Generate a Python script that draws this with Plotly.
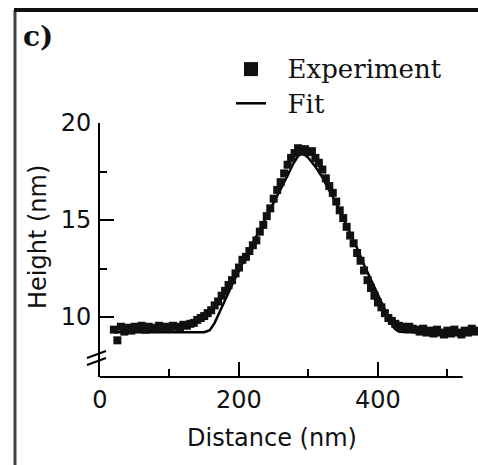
import plotly.graph_objects as go

exp_distance = [20, 25, 30, 35, 40, 45, 50, 55, 60, 65, 70, 75, 80, 85, 90, 95, 100, 105, 110, 115,
                120, 125, 130, 135, 140, 145, 150, 155, 160, 165, 170, 175, 180, 185, 190, 195, 200,
                205, 210, 215, 220, 225, 230, 235, 240, 245, 250, 255, 260, 265, 270, 275, 280, 285,
                290, 295, 300, 305, 310, 315, 320, 325, 330, 335, 340, 345, 350, 355, 360, 365, 370,
                375, 380, 385, 390, 395, 400, 405, 410, 415, 420, 425, 430, 435, 440, 445, 450, 455,
                460, 465, 470, 475, 480, 485, 490, 495, 500, 505, 510, 515, 520, 525, 530, 535, 540, 545]
exp_height = [9.35, 8.8, 9.5, 9.25, 9.45, 9.3, 9.5, 9.4, 9.55, 9.35, 9.5, 9.45, 9.4, 9.55, 9.45, 9.5,
              9.4, 9.55, 9.5, 9.45, 9.6, 9.55, 9.65, 9.7, 9.85, 9.95, 10.05, 10.2, 10.35, 10.6, 10.8,
              11.1, 11.35, 11.65, 11.9, 12.25, 12.55, 12.95, 13.1, 13.4, 13.7, 13.95, 14.4, 14.75,
              15.2, 15.6, 16.1, 16.55, 16.95, 17.4, 17.85, 18.2, 18.45, 18.7, 18.55, 18.65, 18.5,
              18.55, 18.2, 17.95, 17.6, 17.15, 16.75, 16.4, 15.95, 15.5, 15.1, 14.65, 14.2, 13.8,
              13.3, 12.9, 12.4, 11.9, 11.5, 11.1, 10.75, 10.5, 10.2, 9.95, 9.8, 9.65, 9.55, 9.5,
              9.45, 9.5, 9.4, 9.35, 9.25, 9.4, 9.2, 9.3, 9.15, 9.35, 9.2, 9.1, 9.3, 9.15, 9.35, 9.2,
              9.1, 9.3, 9.2, 9.4, 9.25, 9.3]

# Fit curve
fit_distance = [20, 100, 150, 158, 165, 172, 180, 190, 200, 210, 220, 230, 240, 250, 260, 270, 278,
                285, 290, 295, 300, 310, 320, 330, 340, 350, 360, 370, 380, 390, 400, 410, 418, 424,
                430, 440, 545]
fit_height = [9.22, 9.22, 9.22, 9.32, 9.7, 10.25, 10.9, 11.65, 12.4, 13.1, 13.75, 14.45, 15.15, 15.9,
              16.6, 17.3, 17.9, 18.3, 18.4, 18.35, 18.2, 17.75, 17.2, 16.55, 15.85, 15.1, 14.35,
              13.55, 12.7, 11.9, 11.1, 10.3, 9.75, 9.4, 9.25, 9.22, 9.22]

x_major = [0, 200, 400]
x_minor = [100, 300, 500]
y_major = [10, 15, 20]
y_minor = [12.5, 17.5]

fig = go.Figure()
fig.add_trace(go.Scatter(x=fit_distance, y=fit_height, mode="lines",
                         line=dict(color="black", width=2.5), showlegend=False))
fig.add_trace(go.Scatter(x=exp_distance, y=exp_height, mode="markers",
                         marker=dict(symbol="square", size=8, color="#111"), showlegend=False))
# legend entries
fig.add_trace(go.Scatter(x=[None], y=[None], mode="markers",
                         name="<span style='font-size:26px'>\u00a0\u00a0Experiment</span>",
                         marker=dict(symbol="square", size=14, color="#111")))
fig.add_trace(go.Scatter(x=[None], y=[None], mode="lines",
                         name="<span style='font-size:26px'>\u00a0\u00a0Fit</span>",
                         line=dict(color="black", width=2.5)))

sans = "DejaVu Sans"
serif = "DejaVu Serif"

fig.update_layout(
    width=478, height=465,
    margin=dict(l=100, r=0, t=123, b=88),
    paper_bgcolor="white", plot_bgcolor="white",
    showlegend=True,
    legend=dict(x=(231 - 100) / 378, y=(377 - 47) / 254, xanchor="left", yanchor="top",
                font=dict(family=serif, size=24, color="#111"), bgcolor="rgba(0,0,0,0)",
                itemwidth=30, tracegroupgap=0),
    xaxis=dict(range=[0, 544], showline=False, showgrid=False, zeroline=False,
               tickvals=x_major, ticks="inside", ticklen=15, tickwidth=2, tickcolor="black",
               minor=dict(tickvals=x_minor, ticks="inside", ticklen=8, tickwidth=2, tickcolor="black"),
               tickfont=dict(family=sans, size=24, color="#111"), ticklabelstandoff=6),
    yaxis=dict(range=[6.91, 20], showline=True, linewidth=2, linecolor="black",
               showgrid=False, zeroline=False,
               tickvals=y_major, ticks="inside", ticklen=14, tickwidth=2, tickcolor="black",
               minor=dict(tickvals=y_minor, ticks="inside", ticklen=7, tickwidth=2, tickcolor="black"),
               tickfont=dict(family=sans, size=24, color="#111"), ticklabelstandoff=2),
    annotations=[
        dict(text="Distance (nm)", xref="paper", yref="paper", x=(272 - 100) / 378,
             y=(377 - 438) / 254, showarrow=False, font=dict(family=sans, size=24, color="#111"),
             xanchor="center", yanchor="middle"),
        dict(text="Height (nm)", xref="paper", yref="paper", x=(38 - 100) / 378,
             y=(377 - 237) / 254, showarrow=False, textangle=-90,
             font=dict(family=sans, size=24, color="#111"), xanchor="center", yanchor="middle"),
        dict(text="<b>c)</b>", xref="paper", yref="paper", x=(38 - 100) / 378,
             y=(377 - 37) / 254, showarrow=False, font=dict(family=serif, size=28, color="#111"),
             xanchor="center", yanchor="middle"),
    ],
    shapes=[
        # x axis line
        dict(type="line", xref="x", yref="paper", x0=0, x1=522, y0=0, y1=0,
             line=dict(color="black", width=2)),
        # axis break marks
        dict(type="line", xref="paper", yref="paper", x0=(87 - 100) / 378, x1=(106 - 100) / 378,
             y0=(377 - 358) / 254, y1=(377 - 351) / 254, line=dict(color="black", width=2)),
        dict(type="line", xref="paper", yref="paper", x0=(87 - 100) / 378, x1=(106 - 100) / 378,
             y0=(377 - 365) / 254, y1=(377 - 358) / 254, line=dict(color="black", width=2)),
        # panel frame
        dict(type="line", xref="paper", yref="paper", x0=(15 - 100) / 378, x1=(15 - 100) / 378,
             y0=(377 - 10) / 254, y1=(377 - 466) / 254, line=dict(color="#444", width=3)),
        dict(type="line", xref="paper", yref="paper", x0=(14 - 100) / 378, x1=(480 - 100) / 378,
             y0=(377 - 10) / 254, y1=(377 - 10) / 254, line=dict(color="#111", width=4)),
    ],
)

fig.write_html("out.html")
